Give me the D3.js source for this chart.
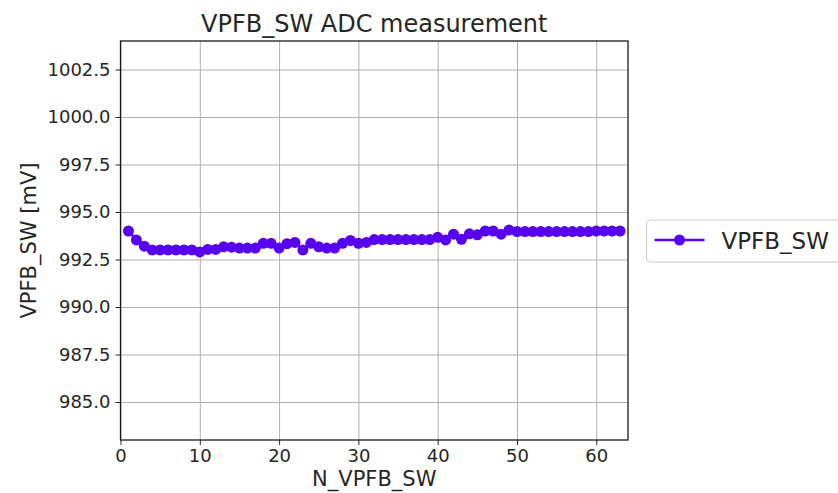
<!DOCTYPE html>
<meta charset="utf-8">
<html>
<head>
    <style>
        body { margin: 0; background: #fff; }
        svg text { font-family: "DejaVu Sans", sans-serif; fill: #262626; }
        .grid line { stroke: #b0b0b0; stroke-width: 1px; }
        .grid path { display: none; }
        .axis path, .axis line { stroke: #262626; }
        .axis text { font-size: 18px; }
    </style>
    <script src="https://d3js.org/d3.v7.min.js"></script>
</head>
<body>
<svg id="svg" width="838" height="493"></svg>
<script>

    // sample index and measured ADC voltage (mV)
    var nIndex = d3.range(1, 64);
    var vpfbValues = [
        994.0, 993.53, 993.2, 993.0, 993.0, 993.0, 993.0, 993.0, 993.0, 992.9,
        993.03, 993.03, 993.17, 993.15, 993.1, 993.1, 993.1, 993.35, 993.35, 993.1,
        993.33, 993.4, 993.0, 993.35, 993.17, 993.1, 993.1, 993.35, 993.5, 993.35,
        993.4, 993.55, 993.55, 993.55, 993.55, 993.55, 993.55, 993.55, 993.55, 993.67,
        993.53, 993.83, 993.56, 993.85, 993.8, 994.0, 994.0, 993.83, 994.05, 993.97,
        993.97, 993.97, 993.97, 993.97, 993.97, 993.97, 993.97, 993.97, 993.97, 994.0,
        994.0, 994.0, 994.0
    ];
    var xTicks = [0, 10, 20, 30, 40, 50, 60];
    var yTicks = [985.0, 987.5, 990.0, 992.5, 995.0, 997.5, 1000.0, 1002.5];
    var seriesName = "VPFB_SW";
    var color = "#5800f0";

    var svg = d3.select("svg"),
        pLeft = 120.5, pRight = 628, pTop = 41, pBottom = 440;

    var x = d3.scaleLinear().domain([0, 64]).range([pLeft, pRight]);
    var y = d3.scaleLinear().domain([983, 1004]).range([pBottom, pTop]);

    // grid
    svg.append("g").attr("class", "grid")
        .attr("transform", "translate(0," + pBottom + ")")
        .call(d3.axisBottom(x).tickValues(xTicks).tickSize(-(pBottom - pTop)).tickFormat(""));
    svg.append("g").attr("class", "grid")
        .attr("transform", "translate(" + pLeft + ",0)")
        .call(d3.axisLeft(y).tickValues(yTicks).tickSize(-(pRight - pLeft)).tickFormat(""));

    // axes
    var xAxis = svg.append("g").attr("class", "axis")
        .attr("transform", "translate(0," + pBottom + ")")
        .call(d3.axisBottom(x).tickValues(xTicks).tickSize(5).tickPadding(4).tickSizeOuter(0));
    var yAxis = svg.append("g").attr("class", "axis")
        .attr("transform", "translate(" + pLeft + ",0)")
        .call(d3.axisLeft(y).tickValues(yTicks).tickSize(5).tickPadding(5).tickSizeOuter(0)
            .tickFormat(d3.format(".1f")));
    xAxis.select(".domain").remove();
    yAxis.select(".domain").remove();

    // frame
    svg.append("rect")
        .attr("x", pLeft).attr("y", pTop)
        .attr("width", pRight - pLeft).attr("height", pBottom - pTop)
        .attr("fill", "none").attr("stroke", "#1a1a1a").attr("stroke-width", 1.3);

    // series
    var pts = nIndex.map(function (n, i) { return [n, vpfbValues[i]]; });
    svg.append("path")
        .datum(pts)
        .attr("fill", "none")
        .attr("stroke", color)
        .attr("stroke-width", 2.5)
        .attr("d", d3.line().x(function (d) { return x(d[0]); }).y(function (d) { return y(d[1]); }));
    svg.append("g").selectAll("circle")
        .data(pts)
        .enter().append("circle")
        .attr("cx", function (d) { return x(d[0]); })
        .attr("cy", function (d) { return y(d[1]); })
        .attr("r", 5.5)
        .attr("fill", color);

    // title and labels
    svg.append("text")
        .attr("x", (pLeft + pRight) / 2).attr("y", 32)
        .attr("text-anchor", "middle")
        .style("font-size", "24px")
        .text("VPFB_SW ADC measurement");
    svg.append("text")
        .attr("x", (pLeft + pRight) / 2).attr("y", 486)
        .attr("text-anchor", "middle")
        .style("font-size", "21px")
        .text("N_VPFB_SW");
    svg.append("text")
        .attr("transform", "translate(36," + (pTop + pBottom) / 2 + ") rotate(-90)")
        .attr("text-anchor", "middle")
        .style("font-size", "21px")
        .text("VPFB_SW [mV]");

    // legend
    var lg = svg.append("g").attr("transform", "translate(646.5,220)");
    lg.append("rect")
        .attr("width", 220).attr("height", 42).attr("rx", 4)
        .attr("fill", "#fff").attr("stroke", "#cccccc");
    lg.append("line")
        .attr("x1", 8).attr("x2", 58).attr("y1", 20).attr("y2", 20)
        .attr("stroke", color).attr("stroke-width", 2.5);
    lg.append("circle").attr("cx", 33).attr("cy", 20).attr("r", 5.5).attr("fill", color);
    lg.append("text")
        .attr("x", 75).attr("y", 29)
        .style("font-size", "23px")
        .text(seriesName);

</script>
</body>
</html>
